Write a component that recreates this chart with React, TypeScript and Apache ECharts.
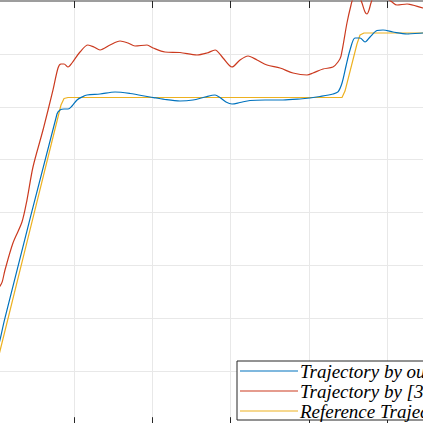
import React, { useEffect, useRef } from "react";
import * as echarts from "echarts";

const legendNames = ["Trajectory by our method", "Trajectory by [35]", "Reference Trajectory"];
const seriesColors = ["#0072BD", "#CB3A1F", "#EDB120"];

const xRange = [0, 6];
const yRange = [0, 8];

const oursData: [number, number][] = [
  [0.026, 1.44], [0.051, 1.592], [0.115, 2.008], [0.78, 5.864], [0.818, 5.94], [0.87, 5.958],
  [0.921, 5.958], [0.972, 6.015], [1.036, 6.129], [1.1, 6.185], [1.164, 6.223], [1.33, 6.242],
  [1.522, 6.28], [1.714, 6.251], [1.969, 6.185], [2.161, 6.138], [2.353, 6.11], [2.519, 6.129],
  [2.673, 6.185], [2.801, 6.223], [2.864, 6.176], [2.941, 6.091], [3.018, 6.053], [3.12, 6.081],
  [3.248, 6.119], [3.44, 6.129], [3.67, 6.129], [3.887, 6.147], [4.015, 6.166], [4.143, 6.195],
  [4.309, 6.242], [4.373, 6.28], [4.425, 6.45], [4.476, 6.771], [4.527, 7.074], [4.591, 7.301],
  [4.655, 7.301], [4.719, 7.225], [4.783, 7.319], [4.872, 7.442], [4.949, 7.452], [5.077, 7.414],
  [5.256, 7.376], [5.46, 7.395], [5.55, 7.395],
];

const ref35Data: [number, number][] = [
  [0.038, 2.58], [0.077, 2.68], [0.115, 2.915], [0.217, 3.425], [0.332, 3.822], [0.396, 4.238],
  [0.473, 4.862], [0.601, 5.561], [0.729, 6.318], [0.793, 6.733], [0.831, 6.809], [0.87, 6.809],
  [0.921, 6.752], [0.972, 6.828], [1.074, 7.036], [1.176, 7.168], [1.253, 7.13], [1.33, 7.074],
  [1.458, 7.168], [1.586, 7.244], [1.688, 7.206], [1.777, 7.149], [1.931, 7.168], [2.008, 7.112],
  [2.161, 7.036], [2.353, 7.026], [2.57, 6.979], [2.698, 7.017], [2.801, 7.074], [2.903, 6.922],
  [3.018, 6.752], [3.12, 6.885], [3.223, 6.96], [3.338, 6.885], [3.465, 6.79], [3.632, 6.733],
  [3.798, 6.639], [3.977, 6.601], [4.054, 6.639], [4.182, 6.715], [4.309, 6.752], [4.373, 6.847],
  [4.412, 6.96], [4.488, 7.584], [4.54, 7.924], [4.578, 8.113], [4.616, 8.17], [4.655, 8.057],
  [4.68, 7.962], [4.719, 7.792], [4.744, 7.754], [4.77, 7.83], [4.795, 7.962], [4.834, 8.113],
  [4.885, 8.17], [4.962, 8.095], [5.064, 7.981], [5.128, 7.924], [5.256, 7.943], [5.46, 7.868],
  [5.55, 7.849],
];

const referenceData: [number, number][] = [
  [0, 1.081], [0.831, 6.034], [0.87, 6.157], [0.921, 6.176], [4.425, 6.176], [4.463, 6.298],
  [4.616, 7.187], [4.655, 7.357], [4.706, 7.395], [5.55, 7.395],
];

// page offset of the chart div (the reference is a crop of a larger figure)
const OX = 100;
const OY = 20;

export default function App() {
  const ref = useRef<HTMLDivElement>(null);
  useEffect(() => {
    if (!ref.current) return;
    const chart = echarts.init(ref.current, undefined, { renderer: "svg" });
    const gridLine = { show: true, lineStyle: { color: "#e8e8e8", width: 1 } };
    const tickStyle = { show: true, inside: true, length: 7, lineStyle: { color: "#262626", width: 1 } };

    const boxX = 237 + OX;
    const boxY = 361 + OY;
    const rowY = [371, 391, 411].map((y) => y + OY);
    const legendEls: any[] = [
      {
        type: "rect",
        shape: { x: boxX, y: boxY, width: 260, height: 59 },
        style: { fill: "#ffffff", stroke: "#262626", lineWidth: 1 },
        z: 100,
      },
    ];
    legendNames.forEach((name, i) => {
      legendEls.push({
        type: "line",
        shape: { x1: 240 + OX, y1: rowY[i], x2: 298 + OX, y2: rowY[i] },
        style: { stroke: seriesColors[i], lineWidth: 1.2 },
        z: 101,
      });
      legendEls.push({
        type: "text",
        x: 300 + OX,
        y: rowY[i],
        style: {
          text: name,
          fill: "#000000",
          font: "italic 19px 'Liberation Serif', 'DejaVu Serif', serif",
          textVerticalAlign: "middle",
          verticalAlign: "middle",
          align: "left",
        },
        z: 101,
      });
    });

    chart.setOption({
      animation: false,
      backgroundColor: "#ffffff",
      grid: { left: 96, top: 21, right: 57.8, bottom: 35.8, containLabel: false },
      xAxis: [
        {
          type: "value", min: xRange[0], max: xRange[1], interval: 1, position: "bottom",
          axisLine: { show: true, lineStyle: { color: "#262626", width: 1 } },
          axisTick: tickStyle, axisLabel: { show: false }, splitLine: gridLine,
        },
        {
          type: "value", min: xRange[0], max: xRange[1], interval: 1, position: "top",
          axisLine: { show: true, lineStyle: { color: "#9d9d9d", width: 2 } },
          axisTick: tickStyle, axisLabel: { show: false }, splitLine: { show: false },
        },
      ],
      yAxis: [
        {
          type: "value", min: yRange[0], max: yRange[1], interval: 1,
          axisLine: { show: false }, axisTick: { show: false }, axisLabel: { show: false },
          splitLine: gridLine,
        },
      ],
      graphic: { elements: legendEls },
      series: [
        {
          name: legendNames[0], type: "line", data: oursData, symbol: "none", smooth: 0.3,
          lineStyle: { color: seriesColors[0], width: 1.2 }, itemStyle: { color: seriesColors[0] }, z: 3,
        },
        {
          name: legendNames[1], type: "line", data: ref35Data, symbol: "none", smooth: 0.3,
          lineStyle: { color: seriesColors[1], width: 1.2 }, itemStyle: { color: seriesColors[1] }, z: 2,
        },
        {
          name: legendNames[2], type: "line", data: referenceData, symbol: "none", smooth: false,
          lineStyle: { color: seriesColors[2], width: 1.2 }, itemStyle: { color: seriesColors[2] }, z: 1,
        },
      ],
    });
    return () => chart.dispose();
  }, []);
  return (
    <div
      ref={ref}
      style={{ position: "fixed", left: -OX, top: -OY, width: 623, height: 480 }}
    />
  );
}
